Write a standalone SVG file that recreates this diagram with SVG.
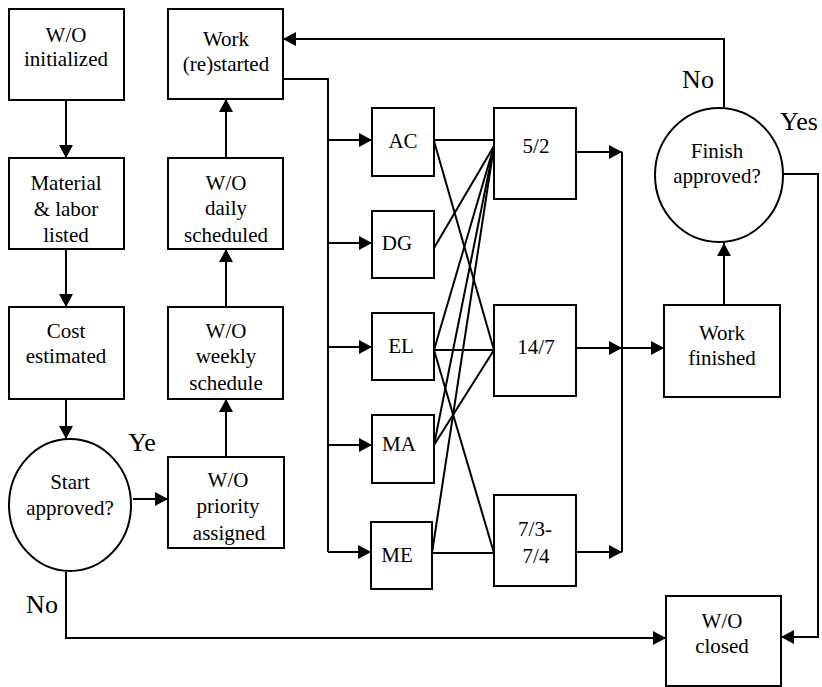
<svg xmlns="http://www.w3.org/2000/svg" width="822" height="687" viewBox="0 0 822 687" font-family="Liberation Serif, DejaVu Serif, serif">
<style>
.b{fill:#fff;stroke:#000;stroke-width:2}
.t{font-family:'Liberation Serif','DejaVu Serif',serif;font-size:21px;fill:#000;text-anchor:middle}
.l{font-family:'Liberation Serif','DejaVu Serif',serif;font-size:26px;fill:#000;text-anchor:middle}
.c{fill:none;stroke:#000;stroke-width:2}
.a{marker-end:url(#ah)}
</style>
<defs>
<marker id="ah" markerUnits="userSpaceOnUse" markerWidth="14" markerHeight="14" refX="13" refY="7" orient="auto">
<path d="M0,0 L13,7 L0,14 z" fill="#000"/>
</marker>
</defs>
<rect width="822" height="687" fill="#fff"/>
<g id="connectors">
<path class="c a" d="M66,100 V158"/>
<path class="c a" d="M66,249 V307"/>
<path class="c a" d="M66,399 V439"/>
<path class="c a" d="M133,499 H168"/>
<path class="c a" d="M226,457 V399"/>
<path class="c a" d="M226,307 V249"/>
<path class="c a" d="M226,158 V99"/>
<path class="c" d="M283,79 H328 V552"/>
<path class="c a" d="M328,140 H372"/>
<path class="c a" d="M328,243 H372"/>
<path class="c a" d="M328,347 H372"/>
<path class="c a" d="M328,445 H372"/>
<path class="c a" d="M328,552 H371"/>
<path class="c" d="M434,140 H494"/>
<path class="c" d="M434,141 L494,350"/>
<path class="c" d="M434,248 L494,146"/>
<path class="c" d="M434,350 L494,146"/>
<path class="c" d="M434,350 H494"/>
<path class="c" d="M434,350 L494,553"/>
<path class="c" d="M434,445 L494,146"/>
<path class="c" d="M434,445 L494,350"/>
<path class="c" d="M432,553 L494,146"/>
<path class="c" d="M432,553 H494"/>
<path class="c a" d="M576,152 H622"/>
<path class="c a" d="M576,348 H622"/>
<path class="c a" d="M576,552 H622"/>
<path class="c" d="M622,152 V552"/>
<path class="c a" d="M622,348 H664"/>
<path class="c a" d="M724,305 V243"/>
<path class="c a" d="M724,107 V39 H283"/>
<path class="c a" d="M783,174 H818 V637 H781"/>
<path class="c a" d="M66,572 V638 H666"/>
</g>
<g id="n-init"><rect class="b" x="9" y="9" width="115" height="91"/><text class="t" x="66" y="42">W/O</text><text class="t" x="66" y="66">initialized</text></g>
<g id="n-material"><rect class="b" x="9" y="158" width="115" height="91"/><text class="t" x="66" y="190">Material</text><text class="t" x="66" y="216">&amp; labor</text><text class="t" x="66" y="242">listed</text></g>
<g id="n-cost"><rect class="b" x="9" y="307" width="115" height="92"/><text class="t" x="66" y="338">Cost</text><text class="t" x="66" y="363">estimated</text></g>
<g id="n-start"><ellipse class="b" cx="70" cy="505" rx="61" ry="66"/><text class="t" x="70" y="489">Start</text><text class="t" x="70" y="515">approved?</text></g>
<g id="n-restarted"><rect class="b" x="168" y="9" width="115" height="90"/><text class="t" x="226" y="46">Work</text><text class="t" x="226" y="71">(re)started</text></g>
<g id="n-daily"><rect class="b" x="168" y="158" width="115" height="91"/><text class="t" x="226" y="190">W/O</text><text class="t" x="226" y="215">daily</text><text class="t" x="226" y="242">scheduled</text></g>
<g id="n-weekly"><rect class="b" x="168" y="307" width="115" height="92"/><text class="t" x="226" y="338">W/O</text><text class="t" x="226" y="363">weekly</text><text class="t" x="226" y="390">schedule</text></g>
<g id="n-priority"><rect class="b" x="168" y="457" width="116" height="91"/><text class="t" x="228" y="487">W/O</text><text class="t" x="228" y="513">priority</text><text class="t" x="229" y="540">assigned</text></g>
<g id="n-ac"><rect class="b" x="372" y="108" width="62" height="68"/><text class="t" x="403" y="148">AC</text></g>
<g id="n-dg"><rect class="b" x="372" y="211" width="62" height="67"/><text class="t" x="397" y="250">DG</text></g>
<g id="n-el"><rect class="b" x="372" y="313" width="62" height="67"/><text class="t" x="401" y="353">EL</text></g>
<g id="n-ma"><rect class="b" x="372" y="415" width="62" height="68"/><text class="t" x="399" y="451">MA</text></g>
<g id="n-me"><rect class="b" x="371" y="522" width="61" height="67"/><text class="t" x="397" y="562">ME</text></g>
<g id="n-52"><rect class="b" x="494" y="108" width="82" height="91"/><text class="t" x="536" y="153">5/2</text></g>
<g id="n-147"><rect class="b" x="494" y="305" width="82" height="91"/><text class="t" x="536" y="354">14/7</text></g>
<g id="n-73"><rect class="b" x="494" y="495" width="82" height="91"/><text class="t" x="535" y="536">7/3-</text><text class="t" x="536" y="563">7/4</text></g>
<g id="n-finished"><rect class="b" x="664" y="305" width="116" height="92"/><text class="t" x="722" y="340">Work</text><text class="t" x="722" y="365">finished</text></g>
<g id="n-finish-approved"><ellipse class="b" cx="719" cy="175" rx="64" ry="67"/><text class="t" x="717" y="158">Finish</text><text class="t" x="717" y="183">approved?</text></g>
<g id="n-closed"><rect class="b" x="666" y="596" width="115" height="90"/><text class="t" x="722" y="628">W/O</text><text class="t" x="722" y="653">closed</text></g>
<g id="labels">
<text class="l" x="142" y="451">Ye</text>
<text class="l" x="42" y="613">No</text>
<text class="l" x="698" y="88">No</text>
<text class="l" x="799" y="130">Yes</text>
</g>
</svg>
